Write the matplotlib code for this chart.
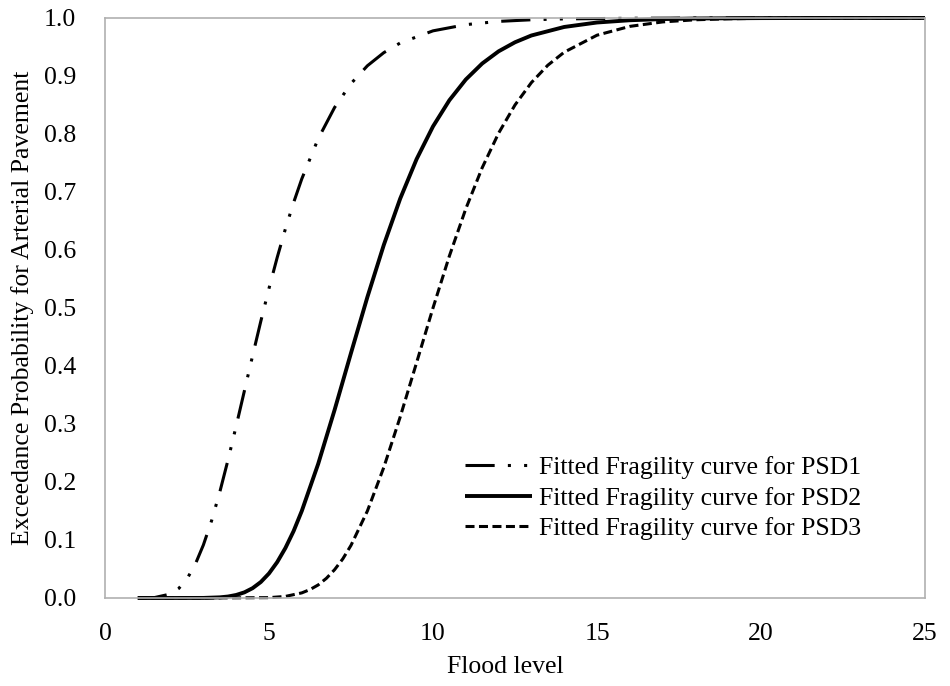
import matplotlib
matplotlib.use("Agg")
import matplotlib.pyplot as plt

plt.rcParams["font.family"] = ["Liberation Serif", "DejaVu Serif"]
plt.rcParams["lines.scale_dashes"] = False

# Exceedance probability
psd1_x = [1.0, 1.5, 2.0, 2.25, 2.5, 2.75, 3.0, 3.25, 3.5, 3.75, 4.0, 4.25, 4.5,
          4.75, 5.0, 5.25, 5.5, 5.75, 6.0, 6.5, 7.0, 7.5, 8.0, 8.5, 9.0, 10.0,
          11.0, 12.0, 13.0, 14.0, 16.0, 18.0, 20.0, 25.0]
psd1_p = [0.0000, 0.0006, 0.0069, 0.0165, 0.0329, 0.0577, 0.0914, 0.1332,
          0.1826, 0.2378, 0.2965, 0.3570, 0.4176, 0.4769, 0.5337, 0.5870,
          0.6363, 0.6816, 0.7226, 0.7918, 0.8457, 0.8869, 0.9176, 0.9402,
          0.9569, 0.9778, 0.9885, 0.9941, 0.9969, 0.9984, 0.9995, 0.9999,
          1.0000, 1.0000]

psd2_x = [1.0, 2.0, 3.0, 3.5, 3.75, 4.0, 4.25, 4.5, 4.75, 5.0, 5.25, 5.5, 5.75,
          6.0, 6.5, 7.0, 7.5, 8.0, 8.5, 9.0, 9.5, 10.0, 10.5, 11.0, 11.5, 12.0,
          12.5, 13.0, 14.0, 15.0, 16.0, 17.0, 18.0, 20.0, 22.0, 25.0]
psd2_p = [0.0000, 0.0000, 0.0001, 0.0011, 0.0025, 0.0052, 0.0097, 0.0169,
          0.0275, 0.0423, 0.0618, 0.0861, 0.1153, 0.1500, 0.2312, 0.3242,
          0.4223, 0.5188, 0.6086, 0.6885, 0.7566, 0.8130, 0.8582, 0.8939,
          0.9215, 0.9425, 0.9581, 0.9698, 0.9845, 0.9922, 0.9961, 0.9981,
          0.9991, 0.9998, 1.0000, 1.0000]

psd3_x = [1.0, 3.0, 5.0, 5.5, 6.0, 6.25, 6.5, 6.75, 7.0, 7.25, 7.5, 8.0, 8.5,
          9.0, 9.5, 10.0, 10.5, 11.0, 11.5, 12.0, 12.5, 13.0, 13.5, 14.0, 15.0,
          16.0, 17.0, 18.0, 19.0, 20.0, 22.0, 25.0]
psd3_p = [0.0000, 0.0000, 0.0006, 0.0027, 0.0088, 0.0145, 0.0225, 0.0339,
          0.0488, 0.0674, 0.0907, 0.1500, 0.2251, 0.3121, 0.4058, 0.5000,
          0.5897, 0.6710, 0.7418, 0.8014, 0.8500, 0.8886, 0.9185, 0.9410,
          0.9703, 0.9855, 0.9932, 0.9969, 0.9986, 0.9994, 0.9999, 1.0000]

labels = ["Fitted Fragility curve for PSD1",
          "Fitted Fragility curve for PSD2",
          "Fitted Fragility curve for PSD3"]
x_ticks = [0, 5, 10, 15, 20, 25]
y_ticks = [0.0, 0.1, 0.2, 0.3, 0.4, 0.5, 0.6, 0.7, 0.8, 0.9, 1.0]

fig = plt.figure(figsize=(9.5, 6.86), dpi=100)
ax = fig.add_axes([0.1105, 0.1283, 0.8632, 0.8455])

ax.plot(psd1_x, psd1_p, color="black", lw=2.2,
        linestyle=(0, (21, 9.5, 2.2, 9.5, 2.2, 9.5)),
        dash_capstyle="butt", clip_on=False, label=labels[0])
ax.plot(psd2_x, psd2_p, color="black", lw=2.8, clip_on=False,
        solid_capstyle="butt", label=labels[1])
ax.plot(psd3_x, psd3_p, color="black", lw=2.2,
        linestyle=(0, (6.5, 3.2)), dash_capstyle="butt",
        clip_on=False, label=labels[2])

ax.set_xlim(0, 25)
ax.set_ylim(0, 1.0)
ax.set_xticks(x_ticks)
ax.set_xticklabels([str(v) for v in x_ticks])
ax.set_yticks(y_ticks)
ax.set_yticklabels([f"{v:.1f}" for v in y_ticks])
ax.tick_params(axis="both", length=0, labelsize=18.5)
ax.tick_params(axis="y", pad=21)
ax.tick_params(axis="x", pad=18)

for side in ax.spines.values():
    side.set_color("#b0b0b0")
    side.set_linewidth(1.2)

ax.set_xlabel("Flood level", fontsize=18.5)
ax.xaxis.set_label_coords(0.488, -0.100)
ax.set_ylabel("Exceedance Probability for Arterial Pavement", fontsize=18.5,
              labelpad=7)

ax.legend(loc="upper left", bbox_to_anchor=(0.439, 0.245), frameon=False,
          fontsize=18.5, handlelength=2.6, handletextpad=0.3,
          labelspacing=0.3, borderpad=0, borderaxespad=0)

fig.savefig("out.png", dpi=100)
